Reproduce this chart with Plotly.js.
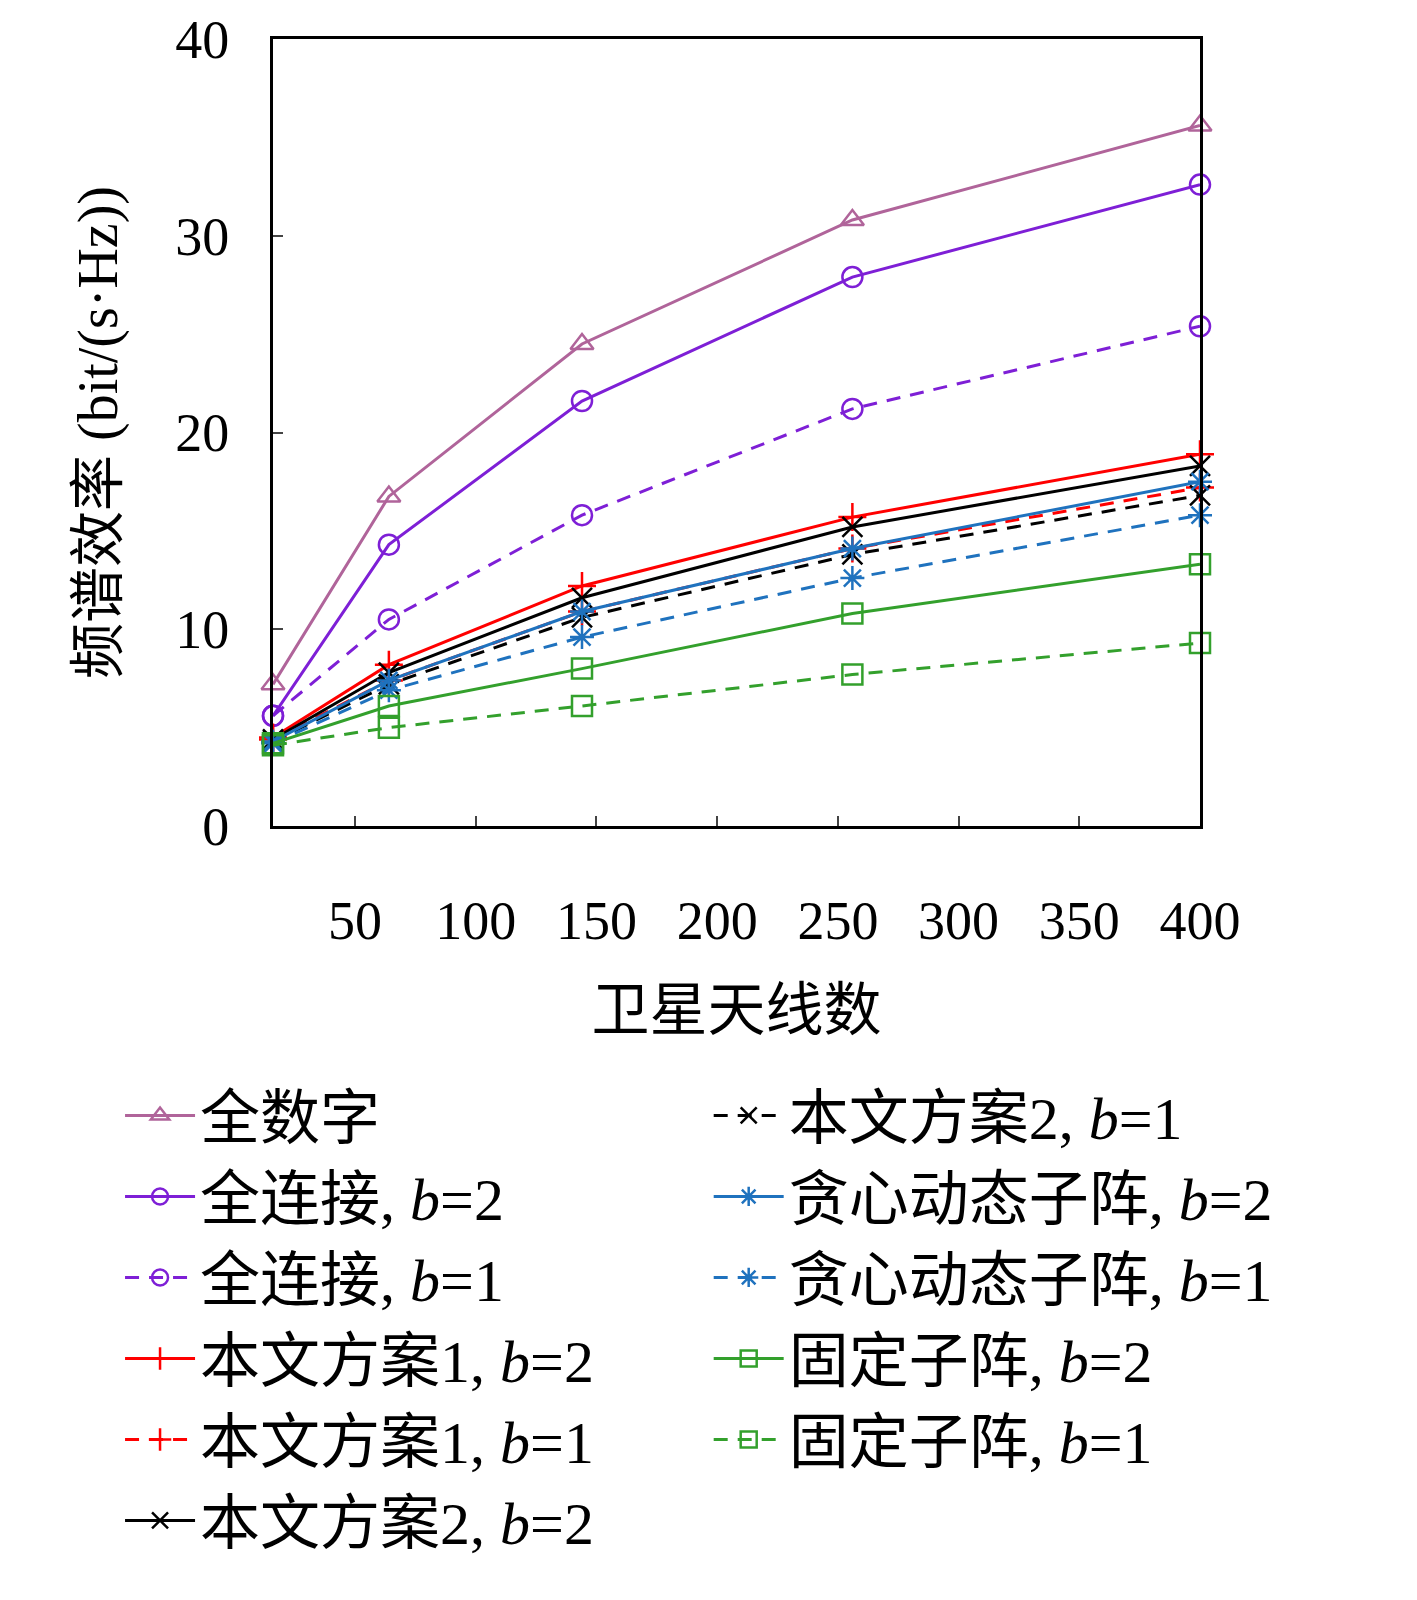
<!DOCTYPE html>
<html><head><meta charset="utf-8">
<script src="https://cdn.plot.ly/plotly-3.0.1.min.js"></script>
<style>body{margin:0;background:#fff}</style></head>
<body><div id="c" style="width:1417px;height:1600px"></div>
<script>
const antennas = [16, 64, 144, 256, 400];
const fullDigital = [7.2, 16.75, 24.5, 30.8, 35.6];
const fullConnB2 = [5.6, 14.3, 21.6, 27.9, 32.6];
const fullConnB1 = [5.6, 10.5, 15.8, 21.2, 25.4];
const prop1B2 = [4.5, 8.2, 12.2, 15.7, 18.9];
const prop1B1 = [4.4, 7.4, 10.9, 14.1, 17.2];
const prop2B2 = [4.4, 7.8, 11.6, 15.2, 18.3];
const prop2B1 = [4.3, 7.2, 10.6, 13.8, 16.8];
const greedyB2 = [4.3, 7.4, 10.9, 14.1, 17.5];
const greedyB1 = [4.2, 6.9, 9.6, 12.6, 15.8];
const fixedB2 = [4.2, 6.1, 8.0, 10.8, 13.3];
const fixedB1 = [4.1, 5.0, 6.1, 7.7, 9.3];
const xTicks = [50, 100, 150, 200, 250, 300, 350, 400];
const yTicks = [0, 10, 20, 30, 40];

function tr(name, y, color, dash, symbol, legend){
  return {x: antennas, y: y, name: name, type: 'scatter', mode: 'lines+markers', cliponaxis: false,
    line: {color: color, width: 3, dash: dash},
    marker: {symbol: symbol, size: 20, color: color, line: {color: color, width: 2.5}},
    legend: legend};
}
const D = '14px,10px';
const P='#b0649a', V='#7e1fd6', R='#ff0000', K='#000000', B='#1f72be', G='#33a02c';
const data = [
  tr('全数字', fullDigital, P, 'solid', 'triangle-up-open', 'legend'),
  tr('全连接, <i>b</i>=2', fullConnB2, V, 'solid', 'circle-open', 'legend'),
  tr('全连接, <i>b</i>=1', fullConnB1, V, D, 'circle-open', 'legend'),
  tr('本文方案1, <i>b</i>=2', prop1B2, R, 'solid', 'cross-thin-open', 'legend'),
  tr('本文方案1, <i>b</i>=1', prop1B1, R, D, 'cross-thin-open', 'legend'),
  tr('本文方案2, <i>b</i>=2', prop2B2, K, 'solid', 'x-thin-open', 'legend'),
  tr('本文方案2, <i>b</i>=1', prop2B1, K, D, 'x-thin-open', 'legend2'),
  tr('贪心动态子阵, <i>b</i>=2', greedyB2, B, 'solid', 'asterisk-open', 'legend2'),
  tr('贪心动态子阵, <i>b</i>=1', greedyB1, B, D, 'asterisk-open', 'legend2'),
  tr('固定子阵, <i>b</i>=2', fixedB2, G, 'solid', 'square-open', 'legend2'),
  tr('固定子阵, <i>b</i>=1', fixedB1, G, D, 'square-open', 'legend2')
];
const tf = {family: 'Liberation Serif, Noto Sans CJK SC', size: 54, color: '#000'};
const lf = {family: 'Liberation Serif, Noto Sans CJK SC', size: 60, color: '#000'};
const layout = {
  width: 1417, height: 1600, showlegend: true,
  margin: {l: 273, r: 217, t: 39, b: 774},
  paper_bgcolor: '#fff', plot_bgcolor: '#fff',
  font: tf,
  xaxis: {range: [16, 400], tickvals: xTicks, ticktext: xTicks.map(String), automargin: false,
    ticks: 'inside', ticklen: 10, tickwidth: 2, showline: true, linewidth: 3, linecolor: '#000',
    mirror: true, showgrid: false, zeroline: false, ticklabelstandoff: 45,
    title: {text: '卫星天线数', font: {family: 'Noto Sans CJK SC', size: 58}, standoff: 40}},
  yaxis: {range: [0, 40], tickvals: yTicks, ticks: 'inside', ticklen: 10, tickwidth: 2, automargin: false,
    showline: true, linewidth: 3, linecolor: '#000', mirror: true, showgrid: false, zeroline: false,
    ticklabelstandoff: 30,
    title: {text: '频谱效率 (bit/(s·Hz))', font: {family: 'Liberation Serif, Noto Sans CJK SC', size: 56}, standoff: 40}},
  legend: {x: -0.165, y: -0.31, xanchor: 'left', yanchor: 'top', font: lf, bgcolor: 'rgba(0,0,0,0)',
    tracegroupgap: 0, itemwidth: 70},
  legend2: {x: 0.47, y: -0.31, xanchor: 'left', yanchor: 'top', font: lf, bgcolor: 'rgba(0,0,0,0)',
    tracegroupgap: 0, itemwidth: 70}
};
Plotly.newPlot('c', data, layout, {staticPlot: true});
</script></body></html>
